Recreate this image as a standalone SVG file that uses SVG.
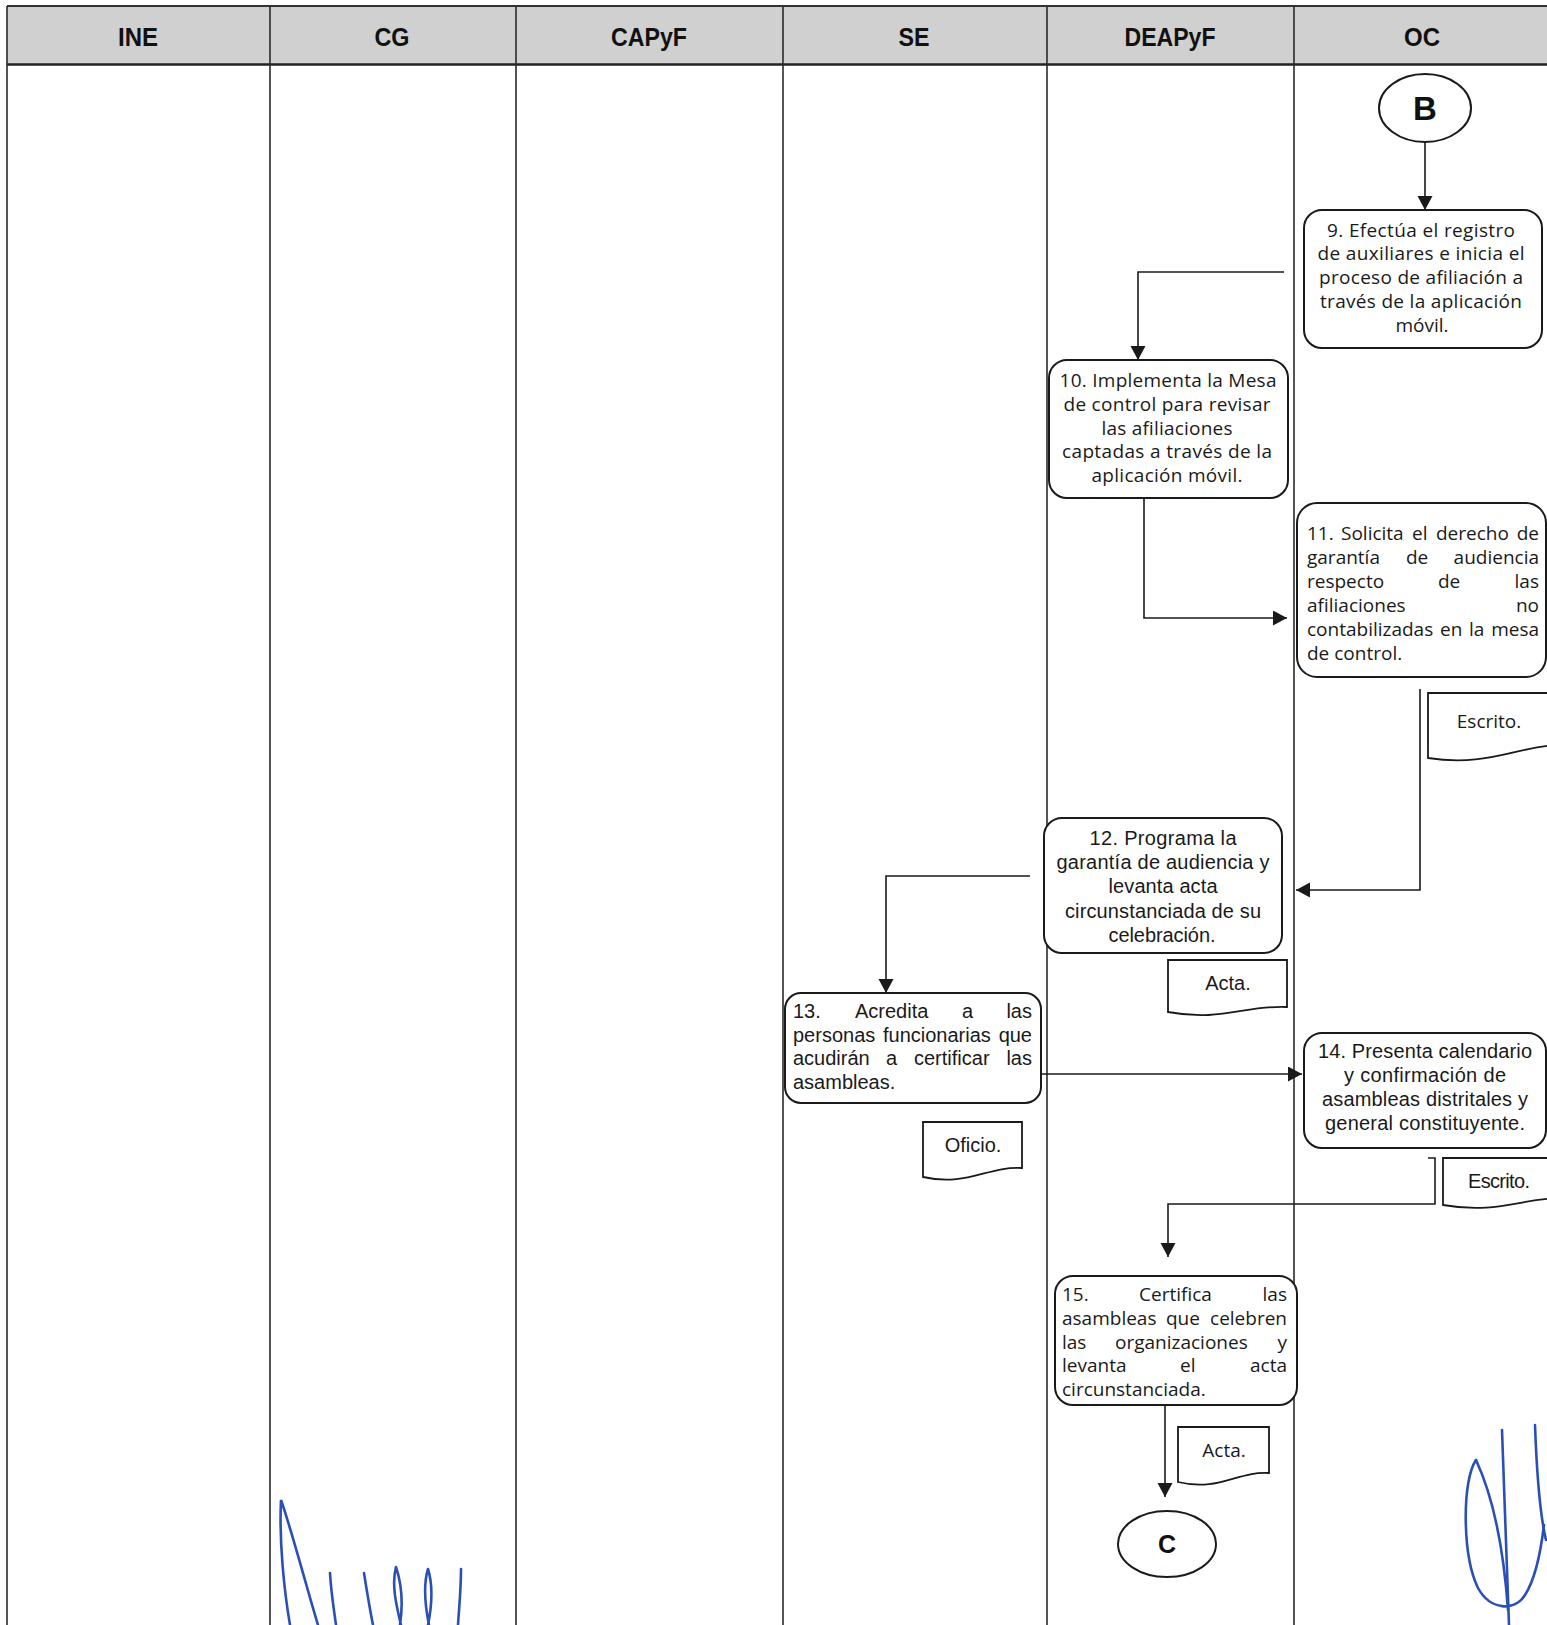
<svg xmlns="http://www.w3.org/2000/svg" width="1547" height="1625" viewBox="0 0 1547 1625">
<style>
.lane{stroke:#2a2a2a;stroke-width:1.6;fill:none}
.box{fill:#fff;stroke:#1a1a1a;stroke-width:2}
.doc{fill:#fff;stroke:#1a1a1a;stroke-width:1.8}
.conn{fill:none;stroke:#1a1a1a;stroke-width:1.6}
.h{font-family:"Liberation Sans",Arial,sans-serif;font-weight:bold;font-size:26px;fill:#111;text-anchor:middle}
.t{font-family:"Open Sans","Noto Sans",sans-serif;font-size:19px;fill:#1a1a1a}
.n{font-family:"Liberation Sans",Arial,sans-serif;font-size:20px;fill:#1a1a1a}
.c{text-anchor:middle}
.e{text-anchor:end}
.k{font-family:"Liberation Sans",Arial,sans-serif;font-weight:bold;fill:#111;text-anchor:middle}
.sig{fill:none;stroke:#2b4fb5;stroke-width:2.6;stroke-linecap:round}
</style>
<defs>
<marker id="ah" markerUnits="userSpaceOnUse" markerWidth="16" markerHeight="16" refX="14" refY="7.5" orient="auto">
<path d="M0,0 L14,7.5 L0,15 Z" fill="#1a1a1a"/>
</marker>
</defs>
<rect width="1547" height="1625" fill="#fff"/>
<g id="header">
<rect x="7" y="6" width="1540" height="58" fill="#d0d0d0"/>
<line x1="7" y1="6" x2="1547" y2="6" stroke="#333" stroke-width="2"/>
<line x1="7" y1="64.5" x2="1547" y2="64.5" stroke="#222" stroke-width="2.5"/>
<text class="h" x="138" y="46" textLength="40" lengthAdjust="spacingAndGlyphs">INE</text>
<text class="h" x="392" y="46" textLength="35" lengthAdjust="spacingAndGlyphs">CG</text>
<text class="h" x="649" y="46" textLength="76" lengthAdjust="spacingAndGlyphs">CAPyF</text>
<text class="h" x="914" y="46" textLength="31" lengthAdjust="spacingAndGlyphs">SE</text>
<text class="h" x="1170" y="46" textLength="91" lengthAdjust="spacingAndGlyphs">DEAPyF</text>
<text class="h" x="1422" y="46" textLength="36" lengthAdjust="spacingAndGlyphs">OC</text>
</g>
<g id="lanes">
<line class="lane" x1="7" y1="6" x2="7" y2="1625"/>
<line class="lane" x1="270" y1="6" x2="270" y2="1625"/>
<line class="lane" x1="516" y1="6" x2="516" y2="1625"/>
<line class="lane" x1="783" y1="6" x2="783" y2="1625"/>
<line class="lane" x1="1047" y1="6" x2="1047" y2="1625"/>
<line class="lane" x1="1294" y1="6" x2="1294" y2="1625"/>
</g>
<g id="connectors">
<path class="conn" d="M1425,142 V210" marker-end="url(#ah)"/>
<path class="conn" d="M1284,272 H1138 V360" marker-end="url(#ah)"/>
<path class="conn" d="M1144,498 V618 H1287" marker-end="url(#ah)"/>
<path class="conn" d="M1420,689 V890 H1296" marker-end="url(#ah)"/>
<path class="conn" d="M1030,876 H886 V993" marker-end="url(#ah)"/>
<path class="conn" d="M1041,1074 H1302" marker-end="url(#ah)"/>
<path class="conn" d="M1428,1158 H1435 V1204 H1168 V1257" marker-end="url(#ah)"/>
<path class="conn" d="M1165,1405 V1497" marker-end="url(#ah)"/>
</g>
<g id="nodeB">
<ellipse cx="1425" cy="108" rx="46" ry="34" fill="#fff" stroke="#1a1a1a" stroke-width="2"/>
<text class="k" x="1425" y="120" font-size="33">B</text>
</g>
<g id="node9">
<rect class="box" x="1304" y="210" width="238" height="138" rx="18"/>
<text class="t c" x="1421" y="237" textLength="188">9. Efectúa el registro</text>
<text class="t c" x="1421" y="260" textLength="207">de auxiliares e inicia el</text>
<text class="t c" x="1421" y="284" textLength="204">proceso de afiliación a</text>
<text class="t c" x="1421" y="308" textLength="202">través de la aplicación</text>
<text class="t c" x="1422" y="332">móvil.</text>
</g>
<g id="node10">
<rect class="box" x="1049" y="360" width="239" height="138" rx="18"/>
<text class="t c" x="1168" y="387" textLength="217">10. Implementa la Mesa</text>
<text class="t c" x="1167" y="411" textLength="207">de control para revisar</text>
<text class="t c" x="1167" y="435" textLength="131">las afiliaciones</text>
<text class="t c" x="1167" y="458" textLength="210">captadas a través de la</text>
<text class="t c" x="1167" y="482" textLength="151">aplicación móvil.</text>
</g>
<g id="node11">
<rect class="box" x="1297" y="503" width="249" height="174" rx="20"/>
<text class="t" y="540"><tspan x="1307">11.</tspan><tspan x="1341">Solicita</tspan><tspan x="1412">el</tspan><tspan x="1436">derecho</tspan><tspan x="1539" text-anchor="end">de</tspan></text>
<text class="t" y="564"><tspan x="1307">garantía</tspan><tspan x="1406">de</tspan><tspan x="1539" text-anchor="end">audiencia</tspan></text>
<text class="t" y="588"><tspan x="1307">respecto</tspan><tspan x="1438">de</tspan><tspan x="1539" text-anchor="end">las</tspan></text>
<text class="t" y="612"><tspan x="1307">afiliaciones</tspan><tspan x="1539" text-anchor="end">no</tspan></text>
<text class="t" y="636"><tspan x="1307">contabilizadas</tspan><tspan x="1440">en</tspan><tspan x="1469">la</tspan><tspan x="1539" text-anchor="end">mesa</tspan></text>
<text class="t" x="1307" y="660">de control.</text>
</g>
<g id="doc11">
<path class="doc" d="M1428,693 H1570 V745 C1520,743 1492,768 1428,758 Z"/>
<text class="t c" x="1489" y="728">Escrito.</text>
</g>
<g id="node12">
<rect class="box" x="1044" y="818" width="238" height="135" rx="18"/>
<text class="n c" x="1163" y="845" textLength="147">12. Programa la</text>
<text class="n c" x="1163" y="869" textLength="213">garantía de audiencia y</text>
<text class="n c" x="1163" y="893" textLength="109">levanta acta</text>
<text class="n c" x="1163" y="918" textLength="196">circunstanciada de su</text>
<text class="n c" x="1162" y="942" textLength="107">celebración.</text>
</g>
<g id="doc12">
<path class="doc" d="M1168,960 H1287 V1007 C1245,1005 1221,1022 1168,1012 Z"/>
<text class="n c" x="1228" y="990">Acta.</text>
</g>
<g id="node13">
<rect class="box" x="785" y="993" width="256" height="110" rx="16"/>
<text class="n" y="1018"><tspan x="793">13.</tspan><tspan x="855">Acredita</tspan><tspan x="962">a</tspan><tspan x="1032" text-anchor="end">las</tspan></text>
<text class="n" y="1042"><tspan x="793">personas</tspan><tspan x="883">funcionarias</tspan><tspan x="1032" text-anchor="end">que</tspan></text>
<text class="n" y="1065"><tspan x="793">acudirán</tspan><tspan x="886">a</tspan><tspan x="914">certificar</tspan><tspan x="1032" text-anchor="end">las</tspan></text>
<text class="n" x="793" y="1089">asambleas.</text>
</g>
<g id="doc13">
<path class="doc" d="M923,1122 H1022 V1168 C987,1166 967,1187 923,1177 Z"/>
<text class="n c" x="973" y="1152">Oficio.</text>
</g>
<g id="node14">
<rect class="box" x="1304" y="1033" width="242" height="115" rx="18"/>
<text class="n c" x="1425" y="1058" textLength="214">14. Presenta calendario</text>
<text class="n c" x="1425" y="1082" textLength="162">y confirmación de</text>
<text class="n c" x="1425" y="1106" textLength="206">asambleas distritales y</text>
<text class="n c" x="1425" y="1130" textLength="200">general constituyente.</text>
</g>
<g id="doc14">
<path class="doc" d="M1443,1158 H1570 V1198 C1525,1196 1500,1215 1443,1205 Z"/>
<text class="n c" x="1499" y="1188" textLength="62">Escrito.</text>
</g>
<g id="node15">
<rect class="box" x="1055" y="1276" width="242" height="129" rx="18"/>
<text class="t" y="1301"><tspan x="1062">15.</tspan><tspan x="1139">Certifica</tspan><tspan x="1287" text-anchor="end">las</tspan></text>
<text class="t" y="1325"><tspan x="1062">asambleas</tspan><tspan x="1166">que</tspan><tspan x="1287" text-anchor="end">celebren</tspan></text>
<text class="t" y="1349"><tspan x="1062">las</tspan><tspan x="1115">organizaciones</tspan><tspan x="1287" text-anchor="end">y</tspan></text>
<text class="t" y="1372"><tspan x="1062">levanta</tspan><tspan x="1180">el</tspan><tspan x="1287" text-anchor="end">acta</tspan></text>
<text class="t" x="1062" y="1396">circunstanciada.</text>
</g>
<g id="doc15">
<path class="doc" d="M1178,1427 H1269 V1473 C1237,1471 1219,1492 1178,1482 Z"/>
<text class="t c" x="1224" y="1457">Acta.</text>
</g>
<g id="nodeC">
<ellipse cx="1167" cy="1544" rx="49" ry="33" fill="#fff" stroke="#1a1a1a" stroke-width="2"/>
<text class="k" x="1167" y="1553" font-size="25">C</text>
</g>
<g id="signatures">
<path class="sig" d="M290,1625 C284,1590 279,1540 281,1500 C290,1525 306,1585 318,1625"/>
<path class="sig" d="M330,1573 C331,1592 334,1610 336,1625"/>
<path class="sig" d="M364,1573 C367,1592 370,1610 373,1625"/>
<path class="sig" d="M396,1567 C391,1585 397,1608 401,1625 M396,1567 C402,1585 403,1605 400,1625"/>
<path class="sig" d="M428,1569 C423,1585 425,1605 429,1625 M428,1569 C433,1585 432,1605 428,1625"/>
<path class="sig" d="M461,1569 C461,1590 459,1608 458,1625"/>
<path class="sig" d="M1502,1430 L1509,1625"/>
<path class="sig" d="M1476,1460 C1462,1480 1462,1555 1478,1588 C1490,1610 1515,1612 1525,1595 C1536,1578 1541,1550 1544,1525"/>
<path class="sig" d="M1476,1460 C1490,1490 1503,1540 1508,1610"/>
<path class="sig" d="M1535,1425 C1537,1480 1540,1515 1546,1540" stroke-width="3.2"/>
</g>
</svg>
